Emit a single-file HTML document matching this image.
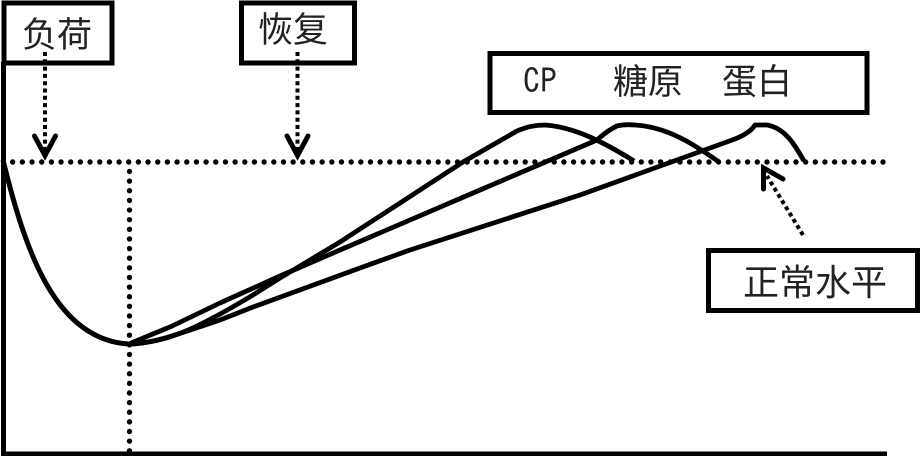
<!DOCTYPE html>
<html><head><meta charset="utf-8"><style>
html,body{margin:0;padding:0;background:#fff;width:920px;height:456px;overflow:hidden}
svg{display:block}
text{font-family:"Noto Sans CJK SC","WenQuanYi Zen Hei",sans-serif;fill:#222}
</style></head><body>
<svg width="920" height="456" viewBox="0 0 920 456" xmlns="http://www.w3.org/2000/svg">
<g fill="none" stroke="#000">
<path d="M3.500 62V456" stroke-width="5"/>
<path d="M2 454H887" stroke-width="5"/>
<path d="M12.700 162H886" stroke-width="5.400" stroke-linecap="round" stroke-dasharray="0 9.670"/>
<path d="M129.500 171.500V452" stroke-width="5.400" stroke-linecap="round" stroke-dasharray="0 9.630"/>
<path d="M3 160C25 250 55 340 129 344" stroke-width="5"/>
<path d="M129 344C165 342 190 333 253 295L280 278L340 242L463 162L517 131Q530 125 545 125C575 127 605 143 634 161" stroke-width="4.800" stroke-linejoin="round"/>
<path d="M129 344Q150 335 170 327L220 303L280 276L340 250L473 193L597 140Q608 130 617 126Q624 124 635 125C668 127 695 145 719 162" stroke-width="4.800" stroke-linejoin="round"/>
<path d="M129 344C150 344 170 337 220 320L253 307L360 268L410 250L580 195L735 139Q750 133 755 125H767C785 128 795 145 804 161" stroke-width="4.800" stroke-linejoin="round"/>
<path d="M45 52V155" stroke-width="4" stroke-dasharray="4 3.300"/>
<path d="M297.500 52V155" stroke-width="4" stroke-dasharray="4 3.300"/>
<path d="M803 235L767 176" stroke-width="4" stroke-dasharray="4 3.300"/>
<path d="M34.500 136L45 155.500L55.500 136" stroke-width="5" stroke-linecap="round"/>
<path d="M287 136L297.500 155.500L308 136" stroke-width="5" stroke-linecap="round"/>
<path d="M763.500 189L763.500 168L783 179" stroke-width="5" stroke-linecap="round"/>
</g>
<g fill="none" stroke="#000" stroke-width="5">
<rect x="4" y="3" width="108" height="60"/>
<rect x="241.500" y="3" width="113" height="60"/>
<rect x="490" y="53.500" width="377" height="59"/>
<rect x="708.500" y="250.500" width="209" height="60"/>
</g>
<text x="22" y="47" font-size="35">负荷</text>
<text x="258" y="42" font-size="35">恢复</text>
<text x="523" y="93" font-size="34" style="font-family:IPAGothic,'Liberation Mono',monospace">CP</text>
<text x="613" y="94" font-size="35">糖原</text>
<text x="722" y="94" font-size="35">蛋白</text>
<text x="743" y="295" font-size="36">正常水平</text>
</svg>
</body></html>
